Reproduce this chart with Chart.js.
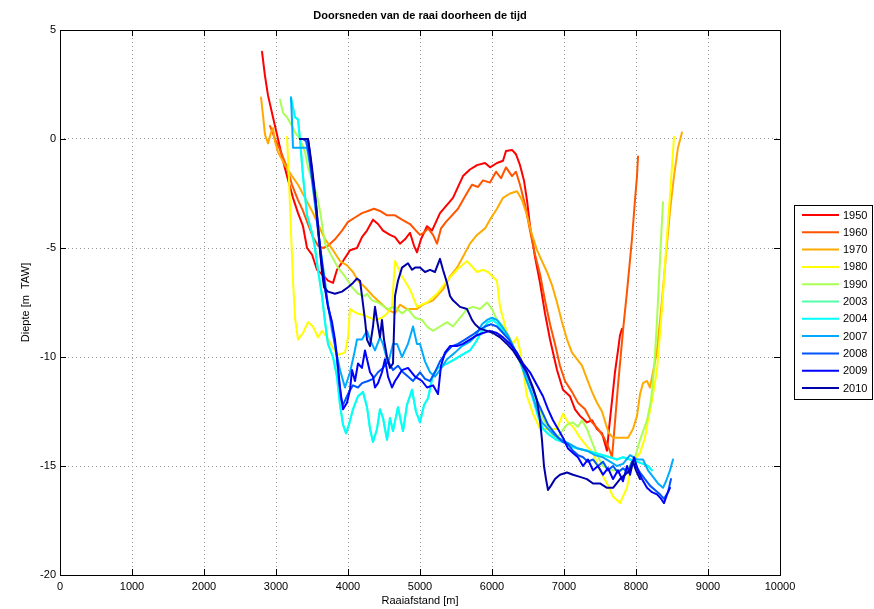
<!DOCTYPE html>
<html>
<head>
<meta charset="utf-8">
<script src="https://cdn.jsdelivr.net/npm/chart.js"></script>
<style>
html,body{margin:0;padding:0;background:#fff;}
#wrap{width:874px;height:609px;position:relative;}
</style>
</head>
<body>
<div id="wrap"><canvas id="c" width="874" height="609"></canvas></div>
<script>
// ---- data (distance in m, depth in m TAW) ----
const years = ["1950","1960","1970","1980","1990","2003","2004","2007","2008","2009","2010"];
const xTicks = [0,1000,2000,3000,4000,5000,6000,7000,8000,9000,10000];
const yTicks = [-20,-15,-10,-5,0,5];

const x1950 = [2806,2847,2889,2958,3014,3056,3097,3153,3236,3306,3375,3431,3500,3569,3639,3722,3792,3847,3931,4028,4125,4194,4264,4347,4417,4486,4583,4653,4722,4792,4861,4917,4958,5014,5097,5167,5278,5458,5597,5694,5792,5903,5972,6069,6153,6194,6278,6333,6389,6444,6486,6528,6597,6667,6736,6806,6903,6986,7083,7153,7222,7319,7389,7458,7528,7597,7625,7667,7708,7750,7778,7806];
const y1950 = [4.0,2.9,2.0,1.0,0.2,-0.4,-1.0,-1.7,-2.7,-3.4,-4.0,-5.0,-5.3,-6.0,-6.2,-6.5,-6.6,-6.0,-5.6,-5.1,-5.0,-4.5,-4.2,-3.7,-3.9,-4.2,-4.4,-4.5,-4.8,-4.6,-4.3,-4.9,-5.2,-4.6,-4.0,-4.2,-3.4,-2.7,-1.7,-1.4,-1.2,-1.1,-1.3,-1.1,-1.0,-0.55,-0.5,-0.7,-1.2,-1.9,-2.8,-4.0,-5.4,-6.6,-8.0,-9.2,-10.6,-11.5,-11.8,-12.4,-12.7,-13.0,-12.9,-13.3,-13.5,-14.3,-13.3,-12.0,-10.7,-9.7,-9.0,-8.7];

const x1960 = [2917,2986,3056,3153,3222,3306,3375,3444,3514,3583,3653,3722,3819,3917,4000,4097,4194,4278,4361,4444,4542,4653,4750,4861,4944,5000,5056,5111,5181,5236,5292,5361,5444,5528,5597,5667,5722,5806,5875,5972,6056,6125,6194,6278,6333,6389,6458,6528,6597,6667,6736,6806,6875,6944,7014,7111,7194,7292,7389,7472,7556,7625,7667,7708,7750,7792,7819,7847,7875,7944,7986,8014,8028];
const y1960 = [0.6,0.0,-0.5,-1.3,-2.1,-2.8,-3.3,-3.9,-4.5,-4.9,-5.0,-4.9,-4.6,-4.2,-3.8,-3.6,-3.4,-3.3,-3.2,-3.3,-3.5,-3.5,-3.7,-3.9,-4.2,-4.4,-4.3,-4.1,-4.4,-4.8,-4.1,-3.8,-3.5,-3.2,-2.8,-2.4,-2.1,-2.2,-1.9,-2.0,-1.5,-1.8,-1.3,-1.7,-1.5,-2.1,-3.0,-4.2,-5.3,-6.2,-7.4,-8.5,-9.4,-10.4,-11.1,-11.6,-12.1,-12.4,-13.0,-13.3,-13.7,-14.2,-14.6,-13.0,-11.3,-9.8,-8.8,-7.9,-7.0,-4.6,-2.8,-1.7,-0.8];

const x1970 = [2792,2819,2847,2889,2931,2958,2986,3028,3125,3222,3306,3403,3500,3583,3681,3792,3889,3986,4069,4139,4236,4347,4444,4542,4653,4722,4819,4958,5042,5181,5319,5417,5514,5597,5694,5792,5903,5972,6069,6153,6250,6347,6417,6486,6556,6625,6694,6764,6833,6903,6972,7042,7111,7181,7250,7319,7389,7458,7528,7583,7625,7681,7750,7819,7889,7958,8014,8056,8097,8153,8194,8236,8292,8361,8417,8472,8528,8583,8639];
const y1970 = [1.9,1.1,0.2,-0.2,0.3,0.5,-0.1,-0.6,-1.2,-1.7,-2.1,-2.7,-3.3,-3.9,-4.6,-5.1,-5.6,-5.8,-6.1,-6.5,-6.8,-7.2,-7.5,-7.8,-8.0,-7.6,-7.8,-7.8,-7.6,-7.4,-6.9,-6.3,-5.9,-5.4,-4.8,-4.4,-4.1,-3.7,-3.2,-2.7,-2.5,-2.4,-2.8,-3.5,-4.4,-5.1,-5.6,-6.1,-6.7,-7.5,-8.4,-9.2,-9.8,-10.1,-10.4,-11.0,-11.6,-12.1,-12.5,-13.1,-13.5,-13.7,-13.7,-13.7,-13.7,-13.3,-12.7,-11.7,-11.2,-11.1,-11.4,-10.7,-9.7,-7.4,-5.3,-3.3,-1.7,-0.4,0.3];

const x1980 = [3153,3181,3208,3236,3264,3306,3375,3444,3514,3583,3639,3708,3778,3861,3958,4000,4028,4125,4236,4375,4472,4542,4611,4653,4681,4750,4861,4958,5097,5236,5375,5514,5653,5792,5875,5944,6069,6111,6208,6292,6347,6389,6486,6569,6667,6764,6903,6986,7056,7125,7222,7319,7403,7500,7597,7681,7778,7819,7875,7917,7986,8056,8125,8167,8222,8292,8361,8417,8472,8528];
const y1980 = [0.1,-1.9,-4.2,-6.5,-8.2,-9.2,-8.9,-8.4,-8.6,-9.1,-8.8,-9.1,-9.5,-9.9,-9.8,-9.1,-7.8,-8.0,-8.1,-8.3,-8.2,-8.0,-7.7,-5.6,-5.8,-6.3,-6.9,-7.7,-7.5,-7.1,-6.5,-6.0,-5.6,-6.1,-6.0,-6.1,-6.5,-7.7,-8.9,-9.4,-9.1,-9.7,-11.8,-12.6,-13.3,-13.3,-13.3,-12.6,-13.0,-13.2,-13.7,-14.1,-14.4,-15.2,-15.8,-16.4,-16.7,-16.4,-16.0,-15.3,-14.7,-14.4,-13.7,-12.9,-12.0,-10.6,-7.8,-5.1,-2.6,0.1];

const x1990 = [3056,3097,3153,3222,3264,3333,3403,3444,3514,3569,3611,3653,3681,3778,3861,3958,4056,4139,4236,4264,4333,4417,4556,4653,4750,4833,4931,5028,5097,5181,5278,5375,5458,5556,5653,5736,5833,5931,6000,6069,6153,6250,6347,6431,6528,6625,6722,6806,6889,6972,7042,7125,7194,7250,7319,7389,7458,7542,7639,7778,7889,7986,8056,8153,8208,8250,8292,8319,8347,8375];
const y1990 = [1.8,1.2,1.0,0.6,0.3,0.0,-0.6,-1.3,-2.0,-2.6,-3.3,-4.2,-4.8,-5.4,-5.9,-6.3,-6.8,-7.1,-7.2,-7.1,-7.4,-7.5,-7.8,-7.7,-8.0,-7.8,-8.2,-8.3,-8.6,-8.8,-8.6,-8.4,-8.6,-8.2,-7.8,-7.7,-7.8,-7.5,-7.8,-8.3,-8.6,-9.2,-9.9,-10.6,-11.5,-12.2,-12.9,-13.4,-13.8,-13.4,-13.1,-13.0,-13.2,-12.9,-13.3,-13.9,-14.5,-15.0,-15.2,-15.2,-15.1,-14.6,-13.8,-12.9,-12.0,-10.6,-8.3,-6.5,-4.6,-2.9];

const x2003 = [3208,3264,3306,3333,3375,3431,3500,3542,3583,3639,3681,3722,3792,3847,3889,3931,3972,4014,4069,4139,4208,4264,4306,4347,4403,4444,4486,4542,4583,4625,4694,4764,4819,4889,4944,5000,5056,5111,5181,5250,5375,5486,5583,5694,5778,5861,5944,6014,6083,6153,6222,6292,6389,6486,6569,6639,6708,6806,6903,6986,7083,7194,7319,7431,7542,7639,7736,7819,7917,8014,8097,8167,8222];
const y2003 = [1.9,1.0,0.9,0.0,-1.7,-3.5,-4.3,-5.0,-6.0,-7.2,-8.4,-9.4,-10.0,-10.9,-12.2,-13.1,-13.5,-13.1,-12.4,-11.8,-11.6,-12.3,-13.3,-13.9,-13.3,-12.4,-12.8,-13.8,-12.8,-13.4,-12.3,-13.4,-12.2,-11.5,-12.5,-13.0,-12.2,-11.9,-10.8,-10.5,-10.3,-10.1,-9.9,-9.7,-9.3,-8.8,-8.4,-8.3,-8.5,-8.8,-9.1,-9.5,-10.2,-11.1,-11.9,-12.7,-13.3,-13.6,-13.8,-13.9,-14.1,-14.2,-14.3,-14.4,-14.5,-14.6,-14.7,-14.6,-14.7,-14.8,-14.9,-15.0,-15.2];

const x2004 = [3208,3264,3306,3333,3375,3431,3500,3542,3583,3639,3681,3722,3792,3847,3889,3931,3972,4014,4069,4139,4208,4264,4306,4347,4403,4444,4486,4542,4583,4625,4694,4764,4819,4889,4944,5000,5056,5111,5181,5250,5375,5486,5583,5694,5778,5861,5944,6014,6083,6153,6222,6292,6389,6486,6569,6639,6708,6806,6903,6986,7083,7194,7319,7431,7542,7639,7736,7819,7917,8014,8097,8167,8222];
const y2004 = [1.9,1.0,0.9,0.0,-1.7,-3.5,-4.3,-5.0,-6.0,-7.2,-8.4,-9.4,-10.0,-10.9,-12.2,-13.1,-13.5,-13.1,-12.4,-11.8,-11.6,-12.3,-13.3,-13.9,-13.3,-12.4,-12.8,-13.8,-12.8,-13.4,-12.3,-13.4,-12.2,-11.5,-12.5,-13.0,-12.2,-11.9,-10.8,-10.5,-10.3,-10.1,-9.9,-9.7,-9.3,-8.8,-8.4,-8.3,-8.5,-8.8,-9.1,-9.5,-10.2,-11.1,-11.9,-12.7,-13.3,-13.6,-13.8,-13.9,-14.1,-14.2,-14.3,-14.4,-14.5,-14.6,-14.7,-14.6,-14.7,-14.8,-14.9,-15.0,-15.2];

const x2007 = [3208,3222,3236,3333,3431,3472,3514,3569,3611,3667,3722,3778,3833,3889,3958,4028,4083,4125,4194,4264,4306,4375,4444,4486,4556,4625,4681,4750,4833,4903,4958,5000,5069,5139,5208,5278,5375,5486,5583,5694,5778,5861,5931,6000,6069,6139,6222,6306,6389,6472,6556,6625,6694,6778,6875,6972,7083,7194,7319,7431,7542,7639,7736,7819,7917,8014,8097,8167,8236,8306,8375,8417,8472,8514];
const y2007 = [1.9,0.9,-0.4,-0.4,-0.4,-1.2,-2.3,-3.7,-4.9,-6.2,-7.6,-8.8,-9.7,-10.6,-11.4,-10.7,-9.9,-9.2,-9.2,-8.8,-9.2,-9.7,-9.1,-9.4,-10.3,-9.4,-9.4,-10.0,-9.4,-8.6,-9.4,-9.4,-10.2,-10.7,-10.9,-10.6,-10.1,-9.8,-9.5,-9.3,-9.0,-8.5,-8.3,-8.2,-8.3,-8.6,-9.0,-9.6,-10.1,-11.0,-11.7,-12.4,-13.0,-13.3,-13.6,-13.8,-14.0,-14.2,-14.3,-14.5,-14.6,-14.8,-15.0,-14.9,-14.5,-14.7,-14.7,-15.2,-15.5,-15.8,-16.0,-15.7,-15.2,-14.7];

const x2008 = [3333,3375,3417,3458,3500,3542,3583,3625,3667,3708,3764,3806,3847,3875,3903,3931,3972,4014,4069,4139,4194,4278,4347,4417,4486,4556,4625,4694,4764,4833,4903,5000,5069,5139,5208,5278,5361,5444,5528,5625,5722,5806,5903,5986,6069,6153,6236,6319,6403,6486,6569,6639,6708,6778,6847,6917,6986,7056,7125,7194,7264,7333,7403,7472,7542,7611,7681,7750,7819,7889,7944,8000,8056,8125,8194,8264,8333,8389,8444,8486];
const y2008 = [0.0,0.0,-0.1,-0.7,-1.7,-2.8,-4.2,-5.5,-6.6,-7.4,-8.3,-9.1,-10.1,-11.1,-11.9,-12.2,-11.9,-11.6,-11.3,-11.4,-11.2,-11.1,-11.0,-10.7,-10.5,-10.2,-10.6,-10.4,-10.7,-10.9,-11.1,-10.7,-11.0,-11.1,-10.7,-10.2,-9.8,-9.5,-9.4,-9.2,-9.0,-8.8,-8.6,-8.5,-8.6,-8.9,-9.2,-9.7,-10.2,-10.8,-11.5,-12.1,-12.6,-13.1,-13.4,-13.7,-13.9,-14.0,-14.3,-14.5,-14.6,-14.8,-14.7,-15.0,-14.8,-15.2,-15.0,-15.3,-15.1,-15.3,-14.8,-15.0,-15.3,-15.6,-15.9,-16.1,-16.3,-16.5,-16.2,-15.6];

const x2009 = [3333,3444,3472,3514,3556,3583,3639,3681,3722,3778,3819,3847,3889,3917,3931,3986,4028,4056,4097,4139,4194,4236,4264,4306,4347,4375,4417,4472,4514,4556,4611,4653,4694,4750,4833,4931,5028,5097,5181,5250,5292,5347,5417,5514,5597,5694,5792,5875,5972,6069,6153,6250,6347,6431,6528,6625,6708,6778,6847,6917,6986,7056,7125,7194,7264,7333,7403,7472,7542,7611,7681,7750,7819,7875,7917,7972,8028,8083,8153,8222,8292,8347,8389,8431,8472];
const y2009 = [0.0,0.0,-0.7,-1.9,-3.0,-4.1,-5.7,-6.8,-7.7,-8.4,-9.2,-10.0,-11.4,-12.1,-12.4,-12.1,-11.5,-10.6,-11.1,-10.3,-10.5,-9.7,-10.1,-10.7,-10.9,-11.4,-11.2,-10.7,-10.1,-10.9,-11.4,-11.1,-10.9,-10.6,-10.5,-10.9,-11.1,-11.4,-11.3,-11.7,-10.4,-9.8,-9.5,-9.5,-9.4,-9.2,-9.0,-8.9,-8.8,-8.9,-9.1,-9.4,-9.8,-10.3,-10.7,-11.3,-11.8,-12.4,-12.9,-13.3,-13.7,-14.2,-14.4,-14.6,-15.0,-14.7,-15.2,-15.0,-15.4,-15.1,-15.6,-15.2,-15.7,-15.0,-15.4,-14.6,-15.2,-15.6,-16.0,-16.2,-16.3,-16.5,-16.7,-16.3,-16.0];

const x2010 = [3333,3389,3444,3472,3500,3528,3556,3583,3611,3639,3667,3722,3819,3917,4000,4069,4125,4167,4194,4236,4264,4306,4347,4375,4403,4444,4472,4500,4542,4583,4625,4653,4694,4750,4833,4889,4931,5000,5069,5139,5208,5278,5319,5375,5417,5458,5556,5653,5722,5764,5833,5931,6014,6111,6208,6292,6389,6486,6569,6625,6667,6694,6722,6750,6778,6819,6875,6944,7042,7125,7222,7319,7403,7500,7597,7681,7778,7847,7917,7958,8000,8056];
const y2010 = [0.0,0.0,0.0,-0.6,-1.3,-2.1,-3.0,-3.9,-5.1,-6.1,-6.8,-7.0,-7.1,-7.0,-6.8,-6.6,-6.4,-6.5,-7.2,-8.3,-9.2,-9.5,-8.6,-7.7,-8.3,-9.1,-8.3,-9.2,-10.0,-10.5,-10.3,-7.2,-6.5,-5.9,-5.7,-6.0,-5.9,-5.9,-6.1,-6.0,-6.1,-5.5,-6.0,-6.6,-7.2,-7.4,-7.7,-7.8,-8.3,-8.5,-8.7,-8.8,-8.9,-9.1,-9.4,-9.7,-10.2,-10.7,-11.4,-12.0,-12.9,-13.8,-15.0,-15.6,-16.1,-15.9,-15.6,-15.4,-15.3,-15.4,-15.5,-15.6,-15.8,-15.8,-16.0,-16.0,-15.6,-15.4,-15.2,-14.8,-15.2,-15.6];

const seriesX = [x1950,x1960,x1970,x1980,x1990,x2003,x2004,x2007,x2008,x2009,x2010];
const seriesY = [y1950,y1960,y1970,y1980,y1990,y2003,y2004,y2007,y2008,y2009,y2010];
const colors = ["#FF0000","#FF5500","#FFAA00","#FFFF00","#AAFF55","#55FFAA","#00FFFF","#00AAFF","#0055FF","#0000FF","#0000AA"];

function pts(xs, ys){ const n=Math.min(xs.length, ys.length); const a=[]; for(let i=0;i<n;i++) a.push({x:xs[i], y:ys[i]}); return a; }

const datasets = years.map((yr,i)=>({
  label: yr,
  data: pts(seriesX[i], seriesY[i]),
  borderColor: colors[i],
  backgroundColor: colors[i],
  borderWidth: 2,
  pointRadius: 0,
  tension: 0,
  fill: false,
  order: years.length - i
}));

const FONT = "Arial, 'Liberation Sans', Helvetica, sans-serif";

const decor = {
  id: 'decor',
  beforeDraw(chart){
    const ctx = chart.ctx;
    ctx.save(); ctx.fillStyle = '#fff'; ctx.fillRect(0,0,chart.width,chart.height); ctx.restore();
  },
  afterDraw(chart){
    const ctx = chart.ctx, a = chart.chartArea;
    const xs = chart.scales.x, ys = chart.scales.y;
    ctx.save();
    // box
    ctx.strokeStyle = '#000'; ctx.lineWidth = 1;
    ctx.strokeRect(Math.round(a.left)+0.5, Math.round(a.top)+0.5, Math.round(a.right-a.left), Math.round(a.bottom-a.top));
    // inward ticks
    ctx.beginPath();
    xTicks.forEach(v=>{ const p=Math.round(xs.getPixelForValue(v))+0.5;
      ctx.moveTo(p,a.bottom); ctx.lineTo(p,a.bottom-6); ctx.moveTo(p,a.top); ctx.lineTo(p,a.top+6); });
    yTicks.forEach(v=>{ const p=Math.round(ys.getPixelForValue(v))+0.5;
      ctx.moveTo(a.left,p); ctx.lineTo(a.left+6,p); ctx.moveTo(a.right,p); ctx.lineTo(a.right-6,p); });
    ctx.stroke();
    // title
    ctx.fillStyle = '#000';
    ctx.font = 'bold 11px ' + FONT;
    ctx.textAlign = 'center'; ctx.textBaseline = 'middle';
    ctx.fillText('Doorsneden van de raai doorheen de tijd', (a.left+a.right)/2, 16);
    // axis labels
    ctx.font = '11px ' + FONT;
    ctx.fillText('Raaiafstand [m]', (a.left+a.right)/2, 601);
    ctx.save(); ctx.translate(26, (a.top+a.bottom)/2); ctx.rotate(-Math.PI/2);
    ctx.fillText('Diepte [m  TAW]', 0, 0); ctx.restore();
    // legend
    const lx=794.5, ly=205.5, lw=78, lh=194;
    ctx.fillStyle='#fff'; ctx.fillRect(lx,ly,lw,lh);
    ctx.strokeStyle='#000'; ctx.lineWidth=1; ctx.strokeRect(lx,ly,lw,lh);
    ctx.textAlign='left'; ctx.textBaseline='middle'; ctx.font='11px ' + FONT;
    years.forEach((yr,i)=>{
      const yy = 215 + i*17.3;
      ctx.strokeStyle = colors[i]; ctx.lineWidth = 2;
      ctx.beginPath(); ctx.moveTo(802, yy); ctx.lineTo(839, yy); ctx.stroke();
      ctx.fillStyle='#000'; ctx.fillText(yr, 843, yy+0.5);
    });
    ctx.restore();
  }
};

new Chart(document.getElementById('c'), {
  type: 'line',
  data: { datasets },
  options: {
    responsive: false,
    animation: false,
    devicePixelRatio: 1,
    layout: { padding: { top: 30, right: 94, left: 0, bottom: 0 } },
    plugins: { legend: { display: false }, title: { display: false }, tooltip: { enabled: false } },
    elements: { line: { borderCapStyle: 'round', borderJoinStyle: 'round' } },
    scales: {
      x: {
        type: 'linear', min: 0, max: 10000,
        afterFit: s => { s.height = 34; },
        afterBuildTicks: s => { s.ticks = xTicks.map(v=>({value:v})); },
        grid: { color: '#9a9a9a', lineWidth: 1, drawTicks: false },
        border: { display: false, dash: [1,3] },
        ticks: { color: '#000', font: { family: FONT, size: 11 }, padding: 5, maxRotation: 0, callback: v => String(v) }
      },
      y: {
        type: 'linear', min: -20, max: 5,
        afterFit: s => { s.width = 60; },
        afterBuildTicks: s => { s.ticks = yTicks.map(v=>({value:v})); },
        grid: { color: '#9a9a9a', lineWidth: 1, drawTicks: false },
        border: { display: false, dash: [1,3] },
        ticks: { color: '#000', font: { family: FONT, size: 11 }, padding: 4, callback: v => String(v) }
      }
    }
  },
  plugins: [decor]
});
</script>
</body>
</html>
